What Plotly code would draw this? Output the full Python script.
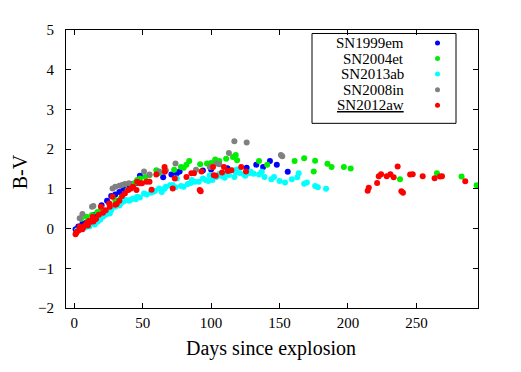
import plotly.graph_objects as go

# ---------------- data ----------------
names = ["SN1999em", "SN2004et", "SN2013ab", "SN2008in", "SN2012aw"]
colors = ["#0000ff", "#00ee00", "#00ffff", "#808080", "#ff0000"]

em99_d = [1, 3, 6, 9, 11, 15, 20, 24, 27, 30, 33, 36, 40, 43, 45, 48, 65, 71, 75, 77,
          94, 100, 112, 126, 133, 138, 143, 148, 156]
em99_v = [-0.02, 0.05, 0.12, 0.15, 0.17, 0.35, 0.59, 0.70, 0.82, 0.86, 0.92, 1.00, 1.11, 1.12,
          1.14, 1.33, 1.29, 1.36, 1.39, 1.44, 1.46, 1.49, 1.52, 1.53, 1.61, 1.55, 1.70, 1.61, 1.43]

et04_d = [5, 9, 13, 17, 20, 26, 30, 34, 39, 44, 46, 48, 52, 55, 60, 62, 66, 73, 78, 80,
          82, 84, 92, 97, 100, 103, 106, 111, 116, 118, 119, 135, 141, 161, 168, 176, 175,
          185, 188, 197, 202, 238, 265, 283, 294]
et04_v = [0.25, 0.30, 0.34, 0.42, 0.51, 0.62, 0.72, 0.76, 0.97, 1.14, 1.22, 1.26, 1.30, 1.34,
          1.47, 1.40, 1.50, 1.48, 1.55, 1.53, 1.61, 1.70, 1.62, 1.64, 1.65, 1.74, 1.70, 1.76,
          1.80, 1.85, 1.72, 1.70, 1.61, 1.70, 1.77, 1.71, 1.44, 1.63, 1.55, 1.55, 1.51, 1.24,
          1.39, 1.31, 1.09]

ab13_d = [2, 4, 6, 8, 11, 14, 17, 19, 21, 23, 25, 27, 30, 32, 34, 36, 38, 41, 43, 46, 48,
          51, 53, 56, 59, 62, 64, 67, 70, 72, 75, 78, 80, 83, 86, 88, 91, 94, 96, 99, 101,
          104, 106, 108, 111, 113, 116, 117, 119, 121, 125, 129, 131, 135, 137, 139, 144,
          146, 150, 154, 159, 163, 164, 168, 170, 176, 178, 184,
          10, 15, 26, 33, 40, 45, 58, 66, 74, 85, 98, 110, 118, 124, 128]
ab13_v = [-0.05, -0.02, 0.00, 0.03, 0.05, 0.13, 0.17, 0.22, 0.30, 0.35, 0.42, 0.46, 0.55,
          0.60, 0.63, 0.68, 0.72, 0.72, 0.76, 0.80, 0.78, 0.88, 0.86, 0.90, 0.95, 1.01, 0.92,
          1.05, 1.09, 1.10, 1.26, 1.07, 1.05, 1.12, 1.22, 1.18, 1.18, 1.26, 1.22, 1.34, 1.22,
          1.30, 1.38, 1.32, 1.40, 1.35, 1.47, 1.30, 1.49, 1.40, 1.33, 1.43, 1.38, 1.36, 1.43,
          1.30, 1.24, 1.30, 1.20, 1.16, 1.24, 1.29, 1.39, 1.13, 1.16, 1.07, 1.04, 1.00,
          0.08, 0.10, 0.38, 0.58, 0.70, 0.74, 0.93, 1.00, 1.04, 1.15, 1.20, 1.28, 1.42, 1.36, 1.40]

in08_d = [4, 6, 13, 14, 28, 30, 33, 35, 37, 40, 51, 55, 62, 67, 74, 89, 99, 104, 106,
          113, 117, 126, 151, 152]
in08_v = [0.26, 0.37, 0.55, 0.57, 1.01, 1.05, 1.08, 1.10, 1.12, 1.14, 1.44, 1.36, 1.44,
          1.46, 1.64, 1.48, 1.55, 1.64, 1.62, 1.90, 2.20, 2.17, 1.85, 1.82]

aw12_d = [1, 2, 3.5, 5, 7, 8.5, 10, 12, 13.5, 15, 16, 19.5, 23, 25.5, 28, 30, 35, 39.5,
          41.5, 45.5, 46, 48, 49.5, 52.8, 55, 56.5, 60, 66, 66.2, 72, 73.5, 82, 85.6, 87.5,
          91.7, 92.4, 93, 101.4, 102, 103.4, 108, 109.4, 112.3, 114.8, 122, 125.5, 214.4,
          215.2, 221.3, 222.5, 224.2, 228.3, 231, 233.4, 236.3, 239, 240.2, 245.4, 247.3,
          254.6, 263.3, 267.3, 268.7, 285.7,
          1.5, 4, 6, 9.5, 11, 14, 18, 21, 26, 31, 33, 37, 43]
aw12_v = [-0.14, -0.08, -0.04, 0.01, 0.05, 0.10, 0.08, 0.17, 0.30, 0.23, 0.25, 0.55, 0.46,
          0.63, 0.80, 0.60, 0.82, 0.97, 1.01, 0.97, 1.18, 1.14, 1.14, 1.18, 1.18, 0.98, 1.36,
          1.55, 1.43, 1.01, 1.26, 1.30, 1.39, 1.39, 0.97, 0.94, 1.44, 1.55, 1.34, 1.33, 1.41,
          1.55, 1.45, 1.47, 1.55, 1.44, 0.95, 1.03, 1.15, 1.32, 1.37, 1.32, 1.37, 1.29, 1.56,
          0.94, 0.90, 1.36, 1.37, 1.32, 1.27, 1.31, 1.32, 1.19,
          -0.10, 0.05, -0.02, 0.15, 0.20, 0.18, 0.35, 0.40, 0.55, 0.62, 0.70, 0.88, 1.05]

x_ticks = [0, 50, 100, 150, 200, 250]
y_ticks = [-2, -1, 0, 1, 2, 3, 4, 5]

series = [(em99_d, em99_v), (et04_d, et04_v), (ab13_d, ab13_v), (in08_d, in08_v), (aw12_d, aw12_v)]

# ---------------- figure ----------------
FONT = "Liberation Serif, Times New Roman, serif"
OFF = 8                      # page body margin; positions below are given in window pixels
W, H = 521 - 2 * OFF, 372 - 2 * OFF
PLOT_L, PLOT_R, PLOT_T, PLOT_B = 66, 478, 29.5, 308   # window pixels
L, T = PLOT_L - OFF, PLOT_T - OFF
R, B = W - (PLOT_R - OFF), H - (PLOT_B - OFF)
pw, ph = W - L - R, H - T - B


def px2paper_x(px):
    return (px - PLOT_L) / pw


def px2paper_y(py):
    return (PLOT_B - py) / ph


fig = go.Figure()
for (d, v), name, col in zip(series, names, colors):
    fig.add_trace(go.Scatter(x=d, y=v, mode="markers", name=name,
                             marker=dict(color=col, size=6, line=dict(width=0)),
                             showlegend=False))

# custom legend (text left of marker)
leg_y_px = [42.5, 58.1, 73.7, 89.3, 104.9]
leg_marker_x = px2paper_x(437.5)
for i, (name, col) in enumerate(zip(names, colors)):
    yy = px2paper_y(leg_y_px[i])
    fig.add_trace(go.Scatter(x=[leg_marker_x], y=[yy], mode="markers", xaxis="x2", yaxis="y2",
                             marker=dict(color=col, size=5), showlegend=False, hoverinfo="skip"))
    label = name if i < len(names) - 1 else "<u>" + name + "</u>"
    fig.add_annotation(x=px2paper_x(406), y=yy, xref="paper", yref="paper", text=label,
                       showarrow=False, xanchor="right", yanchor="middle",
                       font=dict(family=FONT, size=15, color="black"))

# legend box
fig.add_shape(type="rect", xref="paper", yref="paper",
              x0=px2paper_x(312), x1=px2paper_x(456), y0=px2paper_y(123), y1=px2paper_y(33),
              fillcolor="rgba(0,0,0,0)", line=dict(color="black", width=1))

# axis titles
fig.add_annotation(x=px2paper_x(271), y=px2paper_y(349), xref="paper", yref="paper",
                   text="Days since explosion", showarrow=False,
                   xanchor="center", yanchor="middle",
                   font=dict(family=FONT, size=20, color="black"))
fig.add_annotation(x=px2paper_x(20), y=px2paper_y(172), xref="paper", yref="paper",
                   text="B-V", showarrow=False, textangle=-90,
                   xanchor="center", yanchor="middle",
                   font=dict(family=FONT, size=20, color="black"))

axis_common = dict(showgrid=False, zeroline=False, showline=True, linecolor="black",
                   linewidth=1, mirror="ticks", ticks="inside", ticklen=5, tickwidth=1,
                   tickcolor="black", tickfont=dict(family=FONT, size=15, color="black"))

fig.update_layout(
    width=W, height=H,
    margin=dict(l=L, r=R, t=T, b=B, pad=0),
    paper_bgcolor="white", plot_bgcolor="white",
    xaxis=dict(range=[-6, 295], tickvals=x_ticks, ticklabelstandoff=1, **axis_common),
    yaxis=dict(range=[-2, 5], tickvals=y_ticks, ticklabelstandoff=8, **axis_common),
    xaxis2=dict(overlaying="x", range=[0, 1], visible=False, fixedrange=True),
    yaxis2=dict(overlaying="y", range=[0, 1], visible=False, fixedrange=True),
    showlegend=False,
)

fig.write_html("out.html")
